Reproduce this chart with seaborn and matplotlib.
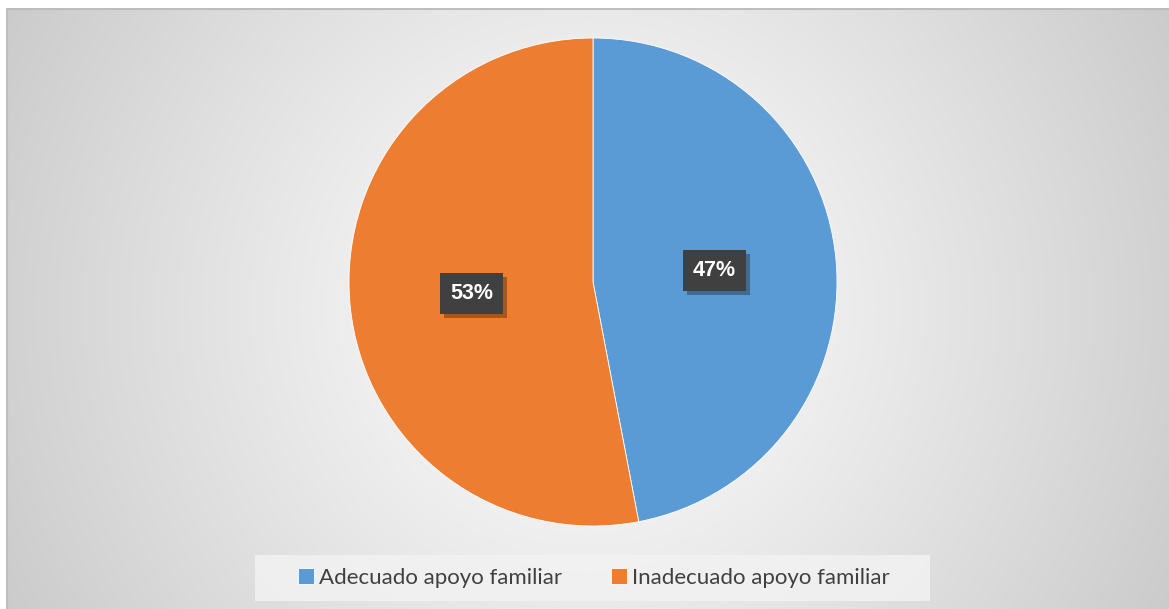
import numpy as np
import matplotlib
matplotlib.use("Agg")
import matplotlib.pyplot as plt
import matplotlib.patheffects as pe
from matplotlib.patches import Rectangle
import seaborn as sns

categories = ["Adecuado apoyo familiar", "Inadecuado apoyo familiar"]
values = [47, 53]
colors = ["#5B9BD5", "#ED7D31"]

sns.set_style("white")
plt.rcParams["font.family"] = ["Lato", "DejaVu Sans"]

W, H = 1169, 609
fig = plt.figure(figsize=(W / 100, H / 100), dpi=100)
fig.patch.set_facecolor("white")

# chart area with a radial grey gradient
x0, y0 = 6, 8  # top-left corner of chart area (pixels)
bg = fig.add_axes([x0 / W, 0, (W - x0) / W, (H - y0) / H])
bg.set_axis_off()
gw, gh = W - x0, H - y0
xx, yy = np.meshgrid(np.arange(gw), np.arange(gh))
r = np.hypot(xx - gw / 2, yy - gh / 2)
shade = 255 - 22 * (r / 300) ** 1.1
shade = np.clip(shade, 0, 255) / 255
bg.imshow(np.dstack([shade] * 3), aspect="auto", extent=[0, gw, gh, 0])
bg.set_xlim(0, gw)
bg.set_ylim(gh, 0)
bg.plot([0, gw], [0.5, 0.5], color="#BDBDBD", lw=1.5)
bg.plot([0.5, 0.5], [0, gh], color="#BDBDBD", lw=1.5)

# pie
cx, cy, rad = 593, 282, 244
ax = fig.add_axes([(cx - rad) / W, (H - cy - rad) / H, 2 * rad / W, 2 * rad / H])
ax.set_axis_off()
wedges, _, autotexts = ax.pie(
    values,
    colors=colors,
    startangle=90,
    counterclock=False,
    autopct=lambda p: f"{p:.0f}%",
    pctdistance=0.5,
    wedgeprops=dict(edgecolor="white", linewidth=0.6),
)
ax.set_xlim(-1, 1)
ax.set_ylim(-1, 1)
ax.set_aspect("equal")

for t in autotexts:
    t.set_color("white")
    t.set_fontsize(15.5)
    t.set_fontweight("bold")
    t.set_family(["Liberation Sans", "DejaVu Sans"])
    t.set_bbox(dict(boxstyle="square,pad=0.46", facecolor="#404040",
                    edgecolor="none", linewidth=0))
    t.get_bbox_patch().set_path_effects([
        pe.SimplePatchShadow(offset=(3, -3), shadow_rgbFace="black", alpha=0.3),
        pe.Normal(),
    ])

# legend panel
fig.patches.append(Rectangle((255 / W, (H - 601) / H), (930 - 255) / W, 46 / H,
                             transform=fig.transFigure, facecolor="#F2F2F2",
                             edgecolor="none", alpha=0.85, zorder=1))
leg = fig.legend(wedges, categories, loc="center", bbox_to_anchor=(594 / W, (H - 578) / H),
                 ncol=2, frameon=False, fontsize=16, handlelength=0.7, handleheight=0.7,
                 handletextpad=0.25, columnspacing=2.2, labelcolor="#404040")
leg.set_zorder(2)

fig.savefig("out.png", dpi=100)
